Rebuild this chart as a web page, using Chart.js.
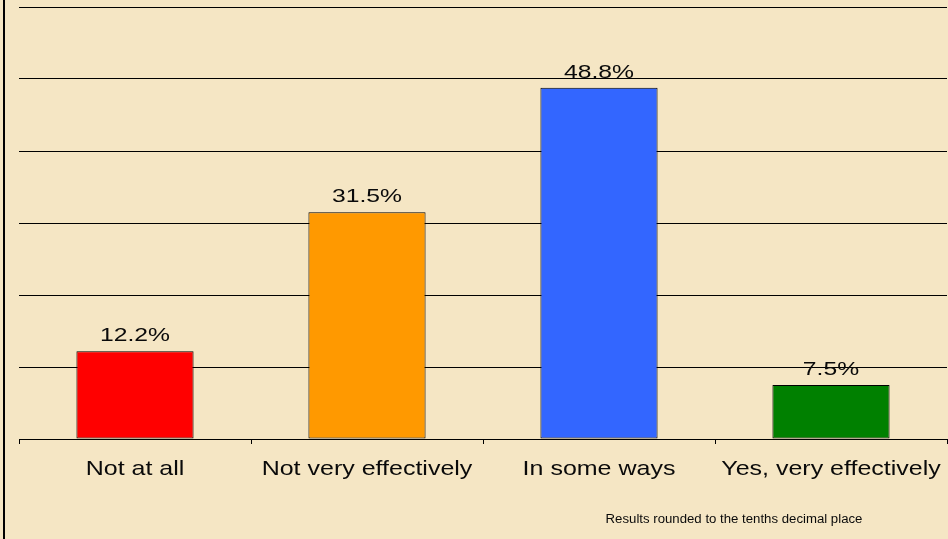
<!DOCTYPE html>
<html>
<head>
<meta charset="utf-8">
<script src="https://cdn.jsdelivr.net/npm/chart.js@4"></script>
<style>
  html, body { margin: 0; padding: 0; background: #F5E6C4; }
  #wrap { position: relative; width: 948px; height: 539px; }
  #wrap::before {
    content: ''; position: absolute; left: 3px; top: 0; width: 2px; height: 539px; background: #000;
  }
</style>
</head>
<body>
<div id="wrap"><canvas id="chart" width="948" height="539"></canvas></div>
<script>
// Survey answers and their shares (percent)
const categories = ['Not at all', 'Not very effectively', 'In some ways', 'Yes, very effectively'];
const shares = [12.2, 31.5, 48.8, 7.5];
const barColors = ['#FF0000', '#FF9900', '#3366FF', '#008000'];
const footnote = 'Results rounded to the tenths decimal place';

const FONT = '"Liberation Sans", Arial, sans-serif';

// text drawn a bit wider than the font gives
function wideText(ctx, text, x, y, size, stretch) {
    ctx.save();
    ctx.font = size + 'px ' + FONT;
    ctx.translate(x, y);
    ctx.scale(stretch, 1);
    ctx.fillText(text, 0, 0);
    ctx.restore();
}

// Percent above every bar, category names under the axis, note in the corner
const textLayer = {
    id: 'textLayer',
    afterDatasetsDraw(chart) {
        const ctx = chart.ctx;
        const meta = chart.getDatasetMeta(0);
        const xScale = chart.scales.x;
        ctx.save();
        ctx.fillStyle = '#0a0a0a';
        ctx.textAlign = 'center';
        ctx.textBaseline = 'alphabetic';
        meta.data.forEach((bar, i) => {
            wideText(ctx, shares[i].toFixed(1) + '%', bar.x, bar.y - 10, 19, 1.3);
        });
        categories.forEach((name, i) => {
            wideText(ctx, name, xScale.getPixelForValue(i), 475, 21, 1.19);
        });
        wideText(ctx, footnote, 734, 523, 12, 1.1);
        ctx.restore();
    }
};

new Chart(document.getElementById('chart'), {
    type: 'bar',
    data: {
        labels: categories,
        datasets: [{
            data: shares,
            backgroundColor: barColors,
            borderColor: '#000',
            borderWidth: 1,
            borderSkipped: false,
            barPercentage: 0.505,
            categoryPercentage: 1
        }]
    },
    options: {
        responsive: false,
        animation: false,
        layout: { padding: { left: 19, right: 1, top: 7, bottom: 95 } },
        plugins: { legend: { display: false }, tooltip: { enabled: false } },
        scales: {
            y: {
                min: 0,
                max: 60,
                ticks: { display: false, stepSize: 10 },
                border: { display: false },
                grid: { color: '#000', lineWidth: 1, drawTicks: false }
            },
            x: {
                border: { color: '#000', width: 1 },
                grid: { drawOnChartArea: false, color: '#000', tickLength: 5, offset: true },
                ticks: { display: false }
            }
        }
    },
    plugins: [textLayer]
});
</script>
</body>
</html>
